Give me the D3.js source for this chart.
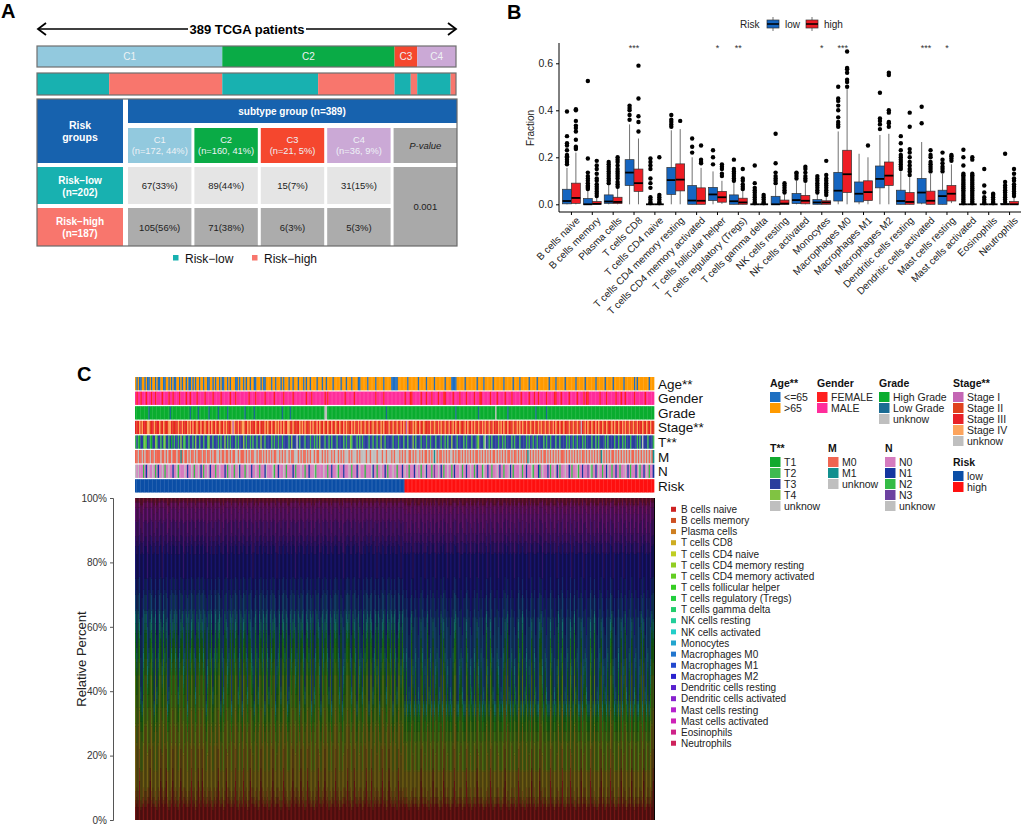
<!DOCTYPE html>
<html>
<head>
<meta charset="utf-8">
<title>Risk groups, immune cell fractions and clinical features</title>
<script src="https://cdn.jsdelivr.net/npm/d3@7"></script>
<style>
    body { margin: 0; background: #fff; }
    svg text { font-family: "Liberation Sans", Arial, sans-serif; }
</style>
</head>
<body>
<svg id="fig" width="1024" height="826"></svg>
<script>
// ================= data =================

// panel A: subtype x risk table
const totalPatients = 389;
const subtypes = ["C1", "C2", "C3", "C4"];
const subtypeN = [172, 160, 21, 36];
const subtypePct = [44, 41, 5, 9];
const riskNames = ["Risk\u2212low", "Risk\u2212high"];
const riskN = [202, 187];
const lowCounts = [67, 89, 15, 31];
const lowPct = [33, 44, 7, 15];
const highCounts = [105, 71, 6, 5];
const highPct = [56, 38, 3, 3];
const pValue = "0.001";

// panel B: CIBERSORT fractions, box stats [lowWhisker, q1, median, q3, highWhisker]
const cellTypes = ["B cells naive", "B cells memory", "Plasma cells", "T cells CD8", "T cells CD4 naive",
    "T cells CD4 memory resting", "T cells CD4 memory activated", "T cells follicular helper",
    "T cells regulatory (Tregs)", "T cells gamma delta", "NK cells resting", "NK cells activated",
    "Monocytes", "Macrophages M0", "Macrophages M1", "Macrophages M2", "Dendritic cells resting",
    "Dendritic cells activated", "Mast cells resting", "Mast cells activated", "Eosinophils", "Neutrophils"];
const boxLow = [
    [0, 0.002, 0.014, 0.064, 0.155], [0, 0, 0, 0.025, 0.06], [0, 0.004, 0.012, 0.04, 0.085],
    [0, 0.08, 0.135, 0.19, 0.34], [0, 0, 0, 0, 0], [0, 0.042, 0.103, 0.157, 0.315],
    [0, 0, 0.016, 0.08, 0.2], [0, 0.016, 0.042, 0.072, 0.14], [0, 0, 0.013, 0.04, 0.095],
    [0, 0, 0, 0, 0], [0, 0, 0, 0.034, 0.08], [0, 0.003, 0.018, 0.046, 0.1],
    [0, 0, 0.008, 0.02, 0.045], [0, 0.014, 0.058, 0.136, 0.31], [0, 0.01, 0.045, 0.095, 0.215],
    [0, 0.07, 0.108, 0.163, 0.295], [0, 0, 0.014, 0.06, 0.14], [0, 0.005, 0.05, 0.11, 0.265],
    [0, 0, 0.035, 0.06, 0.13], [0, 0, 0, 0, 0], [0, 0, 0, 0, 0], [0, 0, 0, 0.003, 0.008]];
const boxHigh = [
    [0, 0.004, 0.027, 0.09, 0.22], [0, 0, 0.002, 0.012, 0.03], [0, 0.003, 0.01, 0.03, 0.07],
    [0, 0.055, 0.09, 0.15, 0.28], [0, 0, 0, 0, 0], [0, 0.057, 0.105, 0.172, 0.32],
    [0, 0, 0.015, 0.07, 0.155], [0.002, 0.009, 0.03, 0.055, 0.1], [0, 0, 0.008, 0.026, 0.06],
    [0, 0, 0, 0, 0], [0, 0, 0.003, 0.018, 0.042], [0, 0.002, 0.015, 0.038, 0.09],
    [0, 0, 0.008, 0.015, 0.035], [0, 0.05, 0.128, 0.23, 0.49], [0, 0.016, 0.052, 0.1, 0.2],
    [0, 0.08, 0.122, 0.18, 0.3], [0, 0, 0.01, 0.05, 0.115], [0, 0, 0.015, 0.056, 0.13],
    [0.005, 0.014, 0.045, 0.08, 0.17], [0, 0, 0, 0, 0], [0, 0, 0, 0, 0], [0, 0, 0, 0.012, 0.03]];
const outLow = [
    [0.17, 0.18, 0.19, 0.2, 0.205, 0.21, 0.23, 0.25, 0.26, 0.29, 0.395],
    [0.065, 0.07, 0.075, 0.08, 0.09, 0.1, 0.11, 0.12, 0.135, 0.195, 0.525],
    [0.09, 0.1, 0.11, 0.12, 0.13, 0.14, 0.15, 0.16, 0.17, 0.18],
    [0.36, 0.38, 0.4, 0.41, 0.42],
    [0.005, 0.01, 0.02, 0.03, 0.07, 0.09, 0.11, 0.15, 0.165, 0.18, 0.195],
    [0.33, 0.34, 0.35, 0.36, 0.38],
    [0.22, 0.245, 0.28],
    [0.17, 0.2, 0.23],
    [0.1, 0.11, 0.12, 0.13, 0.14, 0.15, 0.19],
    [0.005, 0.01, 0.02, 0.03, 0.04, 0.05, 0.06, 0.07, 0.09, 0.165],
    [0.09, 0.1, 0.11, 0.12, 0.135, 0.175, 0.3],
    [0.11, 0.12, 0.13, 0.135],
    [0.05, 0.06, 0.07, 0.08, 0.09, 0.1, 0.11, 0.12],
    [0.33, 0.34, 0.35, 0.37, 0.4, 0.42, 0.44, 0.45, 0.5],
    [],
    [0.32, 0.34, 0.355, 0.365, 0.475],
    [0.15, 0.16, 0.17, 0.18, 0.19, 0.2, 0.21, 0.23, 0.26, 0.29],
    [0.345, 0.415],
    [0.14, 0.15, 0.16, 0.175, 0.19, 0.22],
    [0.005, 0.012, 0.02, 0.028, 0.036, 0.044, 0.052, 0.06, 0.068, 0.076, 0.084, 0.092, 0.1, 0.108, 0.116, 0.124, 0.13, 0.165, 0.2, 0.232],
    [0.005, 0.01, 0.02, 0.03, 0.05, 0.08, 0.15],
    [0.01, 0.02, 0.03, 0.04, 0.05, 0.06, 0.07, 0.08, 0.095, 0.215]];
const outHigh = [
    [0.235, 0.24, 0.245, 0.275, 0.31, 0.325, 0.335, 0.355, 0.4, 0.405],
    [0.035, 0.045, 0.055, 0.065, 0.075, 0.085, 0.1, 0.11, 0.13, 0.15, 0.165, 0.185],
    [0.075, 0.085, 0.095, 0.11, 0.12, 0.13, 0.14, 0.15, 0.165, 0.18, 0.19, 0.2],
    [0.31, 0.35, 0.375, 0.45, 0.59],
    [0.005, 0.01, 0.02, 0.03, 0.04, 0.2],
    [0.355],
    [0.175, 0.18, 0.19, 0.25],
    [0.12, 0.13, 0.15, 0.16, 0.17],
    [0.065, 0.075, 0.085, 0.1, 0.11, 0.15],
    [0.005, 0.01, 0.02, 0.03, 0.04],
    [0.05, 0.06, 0.07, 0.08, 0.09],
    [0.1, 0.11, 0.12, 0.135, 0.15, 0.16],
    [0.04, 0.05, 0.06, 0.07, 0.08, 0.09, 0.1, 0.11, 0.125, 0.185],
    [0.5, 0.52, 0.53, 0.56, 0.575, 0.58, 0.65],
    [0.25],
    [0.33, 0.345, 0.35, 0.39, 0.4, 0.55, 0.56],
    [0.125, 0.14, 0.15, 0.165, 0.18, 0.2, 0.22, 0.235, 0.33, 0.39],
    [0.14, 0.15, 0.16, 0.17, 0.18, 0.2, 0.21, 0.23],
    [0.185, 0.195, 0.205, 0.21],
    [0.005, 0.012, 0.02, 0.028, 0.036, 0.044, 0.052, 0.06, 0.068, 0.076, 0.084, 0.092, 0.1, 0.108, 0.116, 0.124, 0.13, 0.19, 0.2],
    [0.005, 0.01, 0.02, 0.03, 0.04, 0.045],
    [0.035, 0.045, 0.055, 0.065, 0.075, 0.085, 0.1, 0.11, 0.13, 0.15]];
const sigMarks = ["", "", "", "***", "", "", "", "*", "**", "", "", "", "*", "***", "", "", "", "***", "*", "", "", ""];

// panel C: per-patient annotation codes (202 risk-low patients first, then 187 risk-high)
const trackNames = ["Age**", "Gender", "Grade", "Stage**", "T**", "M", "N", "Risk"];
const ageCodes = `
babaabbaba ababbabaab baabbababa abbababbab aabababbab
babbaabbab abbabaabba babbbaabab bababbabba abbbabaabb
bbabbabbba babbbabbab bbabbbabab babbbbabbb abbabbbbab
bbbbabbbab bbabbbbaab bbbbabbbbb abbbbbabbb bbaaaaabbb
bbbbabbbbb bbabbbbbab bbbbabbbbb bbabbbbaaa abbbbbbabb
bbbbbbabbb babbbbbbab bbbbbbabbb bbbabbbbab bbbbbabbbb
babbbbbbbb abbbbabbbb bbabbbbbbb abbbbbbabb bbbbbabbbb
bbabbbbbab bbbbbbabbb bbbbababbb bbbbbabbb`;
const genderCodes = `
mfmmfmmmfm mmfmmfmmmm fmmmmfmmfm mmmfmmmmfm mfmmmmfmmm
mmfmmmmmfm mmmmfmmmmm mfmmmfmmmm mmmmmfmmmm fmmmmmmfmm
mmmmfmmmmm mfmmmmmmfm mmmmmmmmfm mmfmmmmmmm mmfmfmmmmm
mmmmmmmfmm mmmmfmmmmm mmmmmmmmmm fmmmmmfmmm mmmmmmmmmm
mmfmmmffmm mmmmfmmmfm mmfmmmmfmm mffmmmmmfm mmmfmmmmfm
mmmmfmmmff mmmmmmfmmm mfmmmmmfmm mmfmmmmmmf mmmmmfmmmf
mmfmmmmmfm mmmmffmmmf mmmmmfmmmm mfmmmmfmff mmmmmmmmfm
mmmfmmmmmm fmmmfmmfmm mmmmfmmmmm mmfmmmmmm`;
const gradeLowGrade = [10, 26, 41, 47, 55, 62, 69, 82, 89, 110, 116, 188, 240, 257, 279, 300, 308];
const gradeUnknown = [142, 143, 270];
const stageCodes = `
3234243324 4233423342 3423244323 2342343234 2434324234
3242343423 4324234342 3241423432 4423424323 4234323424
2343242434 3423442342 3234243423 2434234342 3423423432
4234234342 2343423434 2342343242 3423424323 4234234234
3421432342 4234324232 3432423434 2342343243 4234232434
2343423423 4342342343 2342434234 3234234243 4234324234
3243423423 4234342343 2432342342 3423u32434 2342343423
4234232434 2342343423 4234234323 423423432`;
const tCodes = `
2321332423 3213342332 3243323132 3323432233 2332343323
3233243323 3323233432 3233323233 3432332323 3233433233
3323233233 2333323433 3u32333233 3233232343 3323323233
3233332323 3423332323 2333323323 3233433233 3332333233
3233233343 2333233323 3233323332 3323233433 3233332323
3323332433 32u3323233 3323323233 3323233323 3332323323
3233332323 3233323323 3332323323 3233323233 3323323233
3323233332 3323323233 3233332323 u33323332`;
const mCodes = `
00u00u0u00 0u00u0000u 00u0u00u00 0u0010u00u 0u00u0u000
u00u00u0u0 0uu0u00u00 u0u00uu0u0 00u0u0u00u u0u00u0u0u
0u0u00uu0u 0u0uu0u00u uu0u0u00u0 u0uu0u00uu 0u0u0uu0u0
uu0u0u0uuu 0u0uuu0u0u uuu0uu0uuu u0uuu0uu0u uu0u0uuu0u
0u0uu00u0u 0uu0u0u00u 0u0u1u0u00 u0u0u0uu0u 0u00u0u0u0
u0u0u00u0u 0u0u0u0u00 u0u0u0u0u0 0u0u00u0u0 u0u01u0u0u
0u0u0u00u0 u0u0u0u0u0 00u0u0u0u0 u0u0u00u0u 0u0u0u0u01
u0u0u0u00u 0u0u0u0u0u 0u00u0u0u0 u0u0u0u01`;
const nCodes = `
u0u0002010 u00u020100 u0200u0010 0u20000u01 00u0200u01
0200u01000 200u000102 0u00200u10 0020u00100 u0020001u0
000u200100 0u02000010 2000u00200 1000u20000 0u00200100
0u20001000 u0200010u0 0020000u10 0200u00102 000u002000
10u0020001 0u00200u10 0020300u01 0200u00201 000u020010
0u00201000 2u00100200 0u01002000 u1020000u0 2001000u20
00120u0001 0200u01020 00u0010200 0u20010003 0u20010u00
2001u00200 1002000u01 0200010u20 010u02001`;

// panel C: estimated immune composition profiles (fractions of the 22 cell types)
const profiles = [
    [0.05, 0.02, 0.03, 0.13, 0.01, 0.11, 0.04, 0.045, 0.025, 0.01, 0.02, 0.03, 0.015, 0.12, 0.06, 0.11, 0.04, 0.06, 0.04, 0.02, 0.005, 0.01],
    [0.04, 0.02, 0.03, 0.2, 0.01, 0.15, 0.05, 0.05, 0.03, 0.01, 0.02, 0.03, 0.01, 0.05, 0.05, 0.1, 0.03, 0.05, 0.04, 0.015, 0.005, 0.01],
    [0.04, 0.01, 0.02, 0.08, 0.005, 0.09, 0.03, 0.03, 0.015, 0.005, 0.01, 0.025, 0.01, 0.26, 0.06, 0.14, 0.03, 0.03, 0.06, 0.025, 0.005, 0.02],
    [0.12, 0.04, 0.06, 0.12, 0.01, 0.1, 0.04, 0.05, 0.02, 0.005, 0.02, 0.03, 0.01, 0.08, 0.05, 0.1, 0.03, 0.05, 0.035, 0.015, 0.005, 0.01],
    [0.03, 0.01, 0.02, 0.09, 0.005, 0.12, 0.03, 0.03, 0.02, 0.005, 0.015, 0.025, 0.015, 0.09, 0.07, 0.25, 0.04, 0.04, 0.05, 0.02, 0.005, 0.02],
    [0.05, 0.02, 0.03, 0.1, 0.01, 0.1, 0.04, 0.04, 0.02, 0.01, 0.03, 0.03, 0.02, 0.1, 0.05, 0.1, 0.08, 0.09, 0.05, 0.02, 0.005, 0.005]];
const profileCodes = `
1013420115 0310214013 5103241031 0140315012 1031041301
3012510140 1031204135 0121031401 2310413052 1041301210
4103125014 1301241031 5012310413 0121401352 1031041201
3104125013 1041302150 4103121340 1512031041 3012104315
10
2024215202 4230252140 2325024123 0252420312 2504223025
4202352024 2152304220 5242032142 0254230212 4025232042
2315204223 0242512032 4202352140 2232504223 0212420325
4202315242 0232514202 3240225123 4202513`;

// ================= helpers =================
const clean = s => s.replace(/\s/g, "").split("");
const font = "Liberation Sans, Arial, sans-serif";
let svg = d3.select("#fig");

function panelLabel(t, x, y) {
    svg.append("text").attr("x", x).attr("y", y).text(t)
        .attr("font-size", 20).attr("font-weight", "bold");
}

// ================= panel A =================
panelLabel("A", 1, 18);
let gA = svg.append("g");
let xA = d3.scaleLinear().domain([0, totalPatients]).range([37, 456]);

// double arrow with title
gA.append("line").attr("x1", 38).attr("x2", 456).attr("y1", 29).attr("y2", 29)
    .attr("stroke", "#000").attr("stroke-width", 1.6);
gA.append("path").attr("d", "M46,23 L38,29 L46,35 M448,23 L456,29 L448,35")
    .attr("fill", "none").attr("stroke", "#000").attr("stroke-width", 1.8);
gA.append("rect").attr("x", 188).attr("y", 21).attr("width", 118).attr("height", 16).attr("fill", "#fff");
gA.append("text").attr("x", 247).attr("y", 33.5).attr("text-anchor", "middle")
    .attr("font-size", 13).attr("font-weight", "bold").text(totalPatients + " TCGA patients");

const subtypeColors = ["#92c9de", "#0aab46", "#f5472e", "#cba9d6"];
const riskColA = { low: "#18b1b0", high: "#f8766d" };

// subtype bar
let cumSub = [0, ...d3.cumsum(subtypeN)];
gA.selectAll(".sub").data(subtypes).join("rect")
    .attr("x", (d, i) => xA(cumSub[i])).attr("width", (d, i) => xA(cumSub[i + 1]) - xA(cumSub[i]))
    .attr("y", 46).attr("height", 21).attr("fill", (d, i) => subtypeColors[i]);
gA.selectAll(".subt").data(subtypes).join("text")
    .attr("x", (d, i) => (xA(cumSub[i]) + xA(cumSub[i + 1])) / 2).attr("y", 60)
    .attr("text-anchor", "middle").attr("font-size", 10).attr("fill", "#eef2f4").text(d => d);
gA.append("rect").attr("x", 37).attr("y", 46).attr("width", 419).attr("height", 21)
    .attr("fill", "none").attr("stroke", "#6f6f6f").attr("stroke-width", 1.2);

// risk bar within each subtype
let riskSegs = [];
let acc = 0;
subtypes.forEach((s, i) => {
    riskSegs.push({ start: acc, n: lowCounts[i], r: "low" });
    acc += lowCounts[i];
    riskSegs.push({ start: acc, n: highCounts[i], r: "high" });
    acc += highCounts[i];
});
gA.selectAll(".rs").data(riskSegs).join("rect")
    .attr("x", d => xA(d.start)).attr("width", d => xA(d.start + d.n) - xA(d.start))
    .attr("y", 73).attr("height", 22).attr("fill", d => riskColA[d.r]);
gA.append("rect").attr("x", 37).attr("y", 73).attr("width", 419).attr("height", 22)
    .attr("fill", "none").attr("stroke", "#6f6f6f").attr("stroke-width", 1.2);

// table
let colA = d3.scaleBand().domain([...subtypes, "P"]).range([128, 457]).paddingInner(0.045);
const headBlue = "#1762ae";
gA.append("rect").attr("x", 37).attr("y", 99).attr("width", 420).attr("height", 147).attr("fill", "#fff");
gA.append("rect").attr("x", 37).attr("y", 99).attr("width", 86).attr("height", 64).attr("fill", headBlue);
gA.append("rect").attr("x", 128).attr("y", 99).attr("width", 329).attr("height", 24).attr("fill", headBlue);
gA.append("text").attr("x", 292).attr("y", 115).attr("text-anchor", "middle").attr("fill", "#fff")
    .attr("font-size", 10).attr("font-weight", "bold").text(`subtype group (n=${totalPatients})`);
gA.append("text").attr("x", 80).attr("y", 129).attr("text-anchor", "middle").attr("fill", "#fff")
    .attr("font-size", 10.5).attr("font-weight", "bold")
    .selectAll("tspan").data(["Risk", "groups"]).join("tspan")
    .attr("x", 80).attr("dy", (d, i) => i ? 12 : 0).text(d => d);

// subtype header cells
gA.selectAll(".sh").data(subtypes).join("rect")
    .attr("x", d => colA(d)).attr("width", colA.bandwidth()).attr("y", 128).attr("height", 35)
    .attr("fill", (d, i) => subtypeColors[i]);
subtypes.forEach((s, i) => {
    gA.append("text").attr("text-anchor", "middle").attr("fill", "#eef2f6").attr("font-size", 9.3)
        .selectAll("tspan").data([s, `(n=${subtypeN[i]}, ${subtypePct[i]}%)`]).join("tspan")
        .attr("x", colA(s) + colA.bandwidth() / 2).attr("y", (d, j) => 143 + j * 11).text(d => d);
});
gA.append("rect").attr("x", colA("P")).attr("width", colA.bandwidth()).attr("y", 128).attr("height", 35).attr("fill", "#a9a9a9");
gA.append("text").attr("x", colA("P") + colA.bandwidth() / 2).attr("y", 149).attr("text-anchor", "middle")
    .attr("font-size", 9.5).attr("font-style", "italic").attr("fill", "#222").text("P-value");

// risk rows
let rowsA = [
    { name: riskNames[0], n: riskN[0], counts: lowCounts, pct: lowPct, y: 167, h: 37, col: riskColA.low, cell: "#e5e5e5" },
    { name: riskNames[1], n: riskN[1], counts: highCounts, pct: highPct, y: 208, h: 38, col: riskColA.high, cell: "#acacac" }];
rowsA.forEach(r => {
    gA.append("rect").attr("x", 37).attr("y", r.y).attr("width", 86).attr("height", r.h).attr("fill", r.col);
    gA.append("text").attr("text-anchor", "middle").attr("fill", "#fff").attr("font-size", 10).attr("font-weight", "bold")
        .selectAll("tspan").data([r.name, `(n=${r.n})`]).join("tspan")
        .attr("x", 80).attr("y", (d, j) => r.y + r.h / 2 - 2 + j * 12).text(d => d);
    gA.selectAll(null).data(subtypes).join("rect")
        .attr("x", d => colA(d)).attr("width", colA.bandwidth()).attr("y", r.y).attr("height", r.h).attr("fill", r.cell);
    gA.selectAll(null).data(subtypes).join("text")
        .attr("x", d => colA(d) + colA.bandwidth() / 2).attr("y", r.y + r.h / 2 + 3.5)
        .attr("text-anchor", "middle").attr("font-size", 9.5).attr("fill", "#222")
        .text((d, i) => `${r.counts[i]}(${r.pct[i]}%)`);
});
gA.append("rect").attr("x", colA("P")).attr("width", colA.bandwidth()).attr("y", 167).attr("height", 79).attr("fill", "#a9a9a9");
gA.append("text").attr("x", colA("P") + colA.bandwidth() / 2).attr("y", 210).attr("text-anchor", "middle")
    .attr("font-size", 9.5).attr("fill", "#222").text(pValue);
gA.append("rect").attr("x", 37).attr("y", 99).attr("width", 420).attr("height", 147)
    .attr("fill", "none").attr("stroke", "#6a6a6a").attr("stroke-width", 1.2);

// legend
[["low", riskNames[0], 173], ["high", riskNames[1], 252]].forEach(([k, t, x]) => {
    gA.append("rect").attr("x", x).attr("y", 255).attr("width", 5.5).attr("height", 5.5).attr("fill", riskColA[k]);
    gA.append("text").attr("x", x + 12).attr("y", 262.5).attr("font-size", 12).attr("fill", "#111").text(t);
});

// ================= panel B =================
panelLabel("B", 507, 19);
let gB = svg.append("g");
const lowBlue = "#1565c0", highRed = "#ee1c24";
let xB = d3.scaleBand().domain(cellTypes).range([561, 1020]);
let dodge = d3.scaleBand().domain(["low", "high"]).range([-8.9, 8.9]);
let yB = d3.scaleLinear().domain([0, 0.6]).range([204.3, 63.3]);

// axes
gB.append("g").attr("transform", "translate(559,0)")
    .call(d3.axisLeft(yB).tickValues([0, 0.2, 0.4, 0.6]).tickFormat(d3.format(".1f")).tickSize(3))
    .call(g => g.select(".domain").remove())
    .call(g => g.selectAll("text").attr("font-size", 10.5).attr("fill", "#222").attr("font-family", font));
gB.append("line").attr("x1", 559).attr("x2", 559).attr("y1", 43).attr("y2", 212).attr("stroke", "#000");
gB.append("g").attr("transform", "translate(0,212)")
    .call(d3.axisBottom(xB).tickSize(3).tickFormat(""))
    .call(g => g.select(".domain").remove());
gB.append("line").attr("x1", 559).attr("x2", 1021).attr("y1", 212).attr("y2", 212).attr("stroke", "#000");
gB.selectAll(".xl").data(cellTypes).join("text")
    .attr("transform", d => `translate(${xB(d) + xB.bandwidth() / 2 + 4},216) rotate(-45)`)
    .attr("text-anchor", "end").attr("dy", "0.72em").attr("font-size", 10).attr("fill", "#222").text(d => d);
gB.append("text").attr("transform", "translate(534,128) rotate(-90)").attr("text-anchor", "middle")
    .attr("font-size", 10).attr("fill", "#222").text("Fraction");

// boxes
function drawBoxes(stats, outs, key, col) {
    cellTypes.forEach((c, i) => {
        let cx = xB(c) + xB.bandwidth() / 2 + dodge(key) + dodge.bandwidth() / 2;
        let w = dodge.bandwidth();
        let s = stats[i];
        let g = gB.append("g");
        g.append("line").attr("x1", cx).attr("x2", cx).attr("y1", yB(s[0])).attr("y2", yB(s[4]))
            .attr("stroke", "#333").attr("stroke-width", 0.7);
        g.append("rect").attr("x", cx - w / 2).attr("width", w).attr("y", yB(s[3]))
            .attr("height", Math.max(0, yB(s[1]) - yB(s[3]))).attr("fill", col)
            .attr("stroke", "#333").attr("stroke-width", 0.7);
        g.append("line").attr("x1", cx - w / 2).attr("x2", cx + w / 2).attr("y1", yB(s[2])).attr("y2", yB(s[2]))
            .attr("stroke", "#000").attr("stroke-width", 1.8);
        g.selectAll("circle").data(outs[i]).join("circle")
            .attr("cx", cx).attr("cy", d => yB(d)).attr("r", 2.2).attr("fill", "#000");
    });
}
drawBoxes(boxLow, outLow, "low", lowBlue);
drawBoxes(boxHigh, outHigh, "high", highRed);

gB.selectAll(".sig").data(cellTypes).join("text")
    .attr("x", d => xB(d) + xB.bandwidth() / 2).attr("y", 51).attr("text-anchor", "middle")
    .attr("font-size", 9).attr("fill", "#333").text((d, i) => sigMarks[i]);

// legend
gB.append("text").attr("x", 740).attr("y", 28).attr("font-size", 10).attr("fill", "#222").text("Risk");
[["low", lowBlue, 767], ["high", highRed, 806]].forEach(([k, c, x]) => {
    gB.append("line").attr("x1", x + 6).attr("x2", x + 6).attr("y1", 17).attr("y2", 31).attr("stroke", "#333").attr("stroke-width", 0.7);
    gB.append("rect").attr("x", x).attr("y", 20).attr("width", 12).attr("height", 8).attr("fill", c)
        .attr("stroke", "#333").attr("stroke-width", 0.7);
    gB.append("line").attr("x1", x).attr("x2", x + 12).attr("y1", 24).attr("y2", 24).attr("stroke", "#000").attr("stroke-width", 1.5);
    gB.append("text").attr("x", x + 18).attr("y", 28).attr("font-size", 10).attr("fill", "#222").text(k);
});

// ================= panel C =================
panelLabel("C", 77, 381);
let gC = svg.append("g");

const ageCol = { a: "#1e6fc1", b: "#ff9a00" };
const genderCol = { f: "#ff1f1f", m: "#ff2d9b" };
const gradeCol = { h: "#0aad2f", l: "#1a6b93", u: "#bfbfbf" };
const stageCol = { "1": "#c466b4", "2": "#e0421d", "3": "#e82127", "4": "#fca45d", u: "#bfbfbf" };
const tCol = { "1": "#11a92e", "2": "#3dba4f", "3": "#2b3e9d", "4": "#80c342", u: "#bfbfbf" };
const mCol = { "0": "#ef6551", "1": "#12908f", u: "#bfbfbf" };
const nCol = { "0": "#d57bbf", "1": "#1436a0", "2": "#35bb46", "3": "#6d42a1", u: "#bfbfbf" };
const riskCol = { low: "#0b4ea6", high: "#ff1010" };

let gradeCodes = d3.range(totalPatients).map(i => gradeUnknown.includes(i) ? "u" : (gradeLowGrade.includes(i) ? "l" : "h"));
let riskCodes = d3.range(totalPatients).map(i => i < riskN[0] ? "low" : "high");
let tracks = [
    [clean(ageCodes), ageCol], [clean(genderCodes), genderCol], [gradeCodes, gradeCol],
    [clean(stageCodes), stageCol], [clean(tCodes), tCol], [clean(mCodes), mCol],
    [clean(nCodes), nCol], [riskCodes, riskCol]];
tracks.forEach((t, k) => { if (t[0].length !== totalPatients) console.warn(trackNames[k], t[0].length); });

let xC = d3.scaleBand().domain(d3.range(totalPatients)).range([135, 654]);
let yTrack = d3.scaleBand().domain(trackNames).range([377, 492.5]).paddingInner(0.09);

tracks.forEach((t, k) => {
    let name = trackNames[k];
    gC.append("g").selectAll("rect").data(t[0]).join("rect")
        .attr("x", (d, i) => xC(i)).attr("width", xC.bandwidth() + 0.35)
        .attr("y", yTrack(name)).attr("height", yTrack.bandwidth())
        .attr("fill", d => t[1][d]);
    gC.append("text").attr("x", 658).attr("y", yTrack(name) + yTrack.bandwidth() / 2 + 5)
        .attr("font-size", 13.5).attr("fill", "#111").text(name);
});

// stacked relative-percent bars
let pCodes = clean(profileCodes).map(Number);
let barRows = pCodes.map((p, i) => {
    let row = { id: i };
    cellTypes.forEach((c, j) => row[c] = profiles[p][j]);
    return row;
});
let stackC = d3.stack().keys(cellTypes)(barRows);
let yC = d3.scaleLinear().domain([0, 1]).range([820, 498]);
let cellColor = d3.scaleOrdinal().domain(cellTypes)
    .range(cellTypes.map((c, i) => d3.hsl(i * 16.2, 0.72, 0.47).formatHex()));

gC.append("rect").attr("x", 135).attr("y", 498).attr("width", 520).attr("height", 322).attr("fill", "#050505");
gC.append("g").selectAll("g").data(stackC).join("g")
    .attr("fill", d => cellColor(d.key))
    .selectAll("rect").data(d => d).join("rect")
    .attr("x", d => xC(d.data.id)).attr("width", xC.bandwidth() * 0.78)
    .attr("y", d => yC(d[1])).attr("height", d => yC(d[0]) - yC(d[1]))
    .attr("fill-opacity", 0.55);

gC.append("g").attr("transform", "translate(113,0)")
    .call(d3.axisLeft(yC).tickValues([0, 0.2, 0.4, 0.6, 0.8, 1]).tickFormat(d3.format(".0%")).tickSize(3))
    .call(g => g.select(".domain").attr("stroke", "#555"))
    .call(g => g.selectAll(".tick line").attr("stroke", "#555"))
    .call(g => g.selectAll("text").attr("font-size", 10).attr("fill", "#333").attr("font-family", font));
gC.append("text").attr("transform", "translate(86,659) rotate(-90)").attr("text-anchor", "middle")
    .attr("font-size", 13).attr("fill", "#222").text("Relative Percent");

// cell-type legend
gC.selectAll(".cl").data(cellTypes).join("rect")
    .attr("x", 671).attr("y", (d, i) => 506.8 + i * 11.14).attr("width", 5).attr("height", 5).attr("fill", d => cellColor(d));
gC.selectAll(".ct").data(cellTypes).join("text")
    .attr("x", 681).attr("y", (d, i) => 513 + i * 11.14).attr("font-size", 10).attr("fill", "#222").text(d => d);

// clinical legends
const clinLegends = [
    { title: "Age**", x: 770, y: 383, labels: ["<=65", ">65"], colors: ageCol, keys: ["a", "b"] },
    { title: "Gender", x: 817, y: 383, labels: ["FEMALE", "MALE"], colors: genderCol, keys: ["f", "m"] },
    { title: "Grade", x: 879, y: 383, labels: ["High Grade", "Low Grade", "unknow"], colors: gradeCol, keys: ["h", "l", "u"] },
    { title: "Stage**", x: 953, y: 383, labels: ["Stage I", "Stage II", "Stage III", "Stage IV", "unknow"], colors: stageCol, keys: ["1", "2", "3", "4", "u"] },
    { title: "T**", x: 770, y: 448, labels: ["T1", "T2", "T3", "T4", "unknow"], colors: tCol, keys: ["1", "2", "3", "4", "u"] },
    { title: "M", x: 828, y: 448, labels: ["M0", "M1", "unknow"], colors: mCol, keys: ["0", "1", "u"] },
    { title: "N", x: 885, y: 448, labels: ["N0", "N1", "N2", "N3", "unknow"], colors: nCol, keys: ["0", "1", "2", "3", "u"] },
    { title: "Risk", x: 953, y: 462, labels: ["low", "high"], colors: riskCol, keys: ["low", "high"] }];
clinLegends.forEach(L => {
    let g = gC.append("g");
    g.append("text").attr("x", L.x).attr("y", L.y + 4).attr("font-size", 10.5).attr("font-weight", "bold")
        .attr("fill", "#111").text(L.title);
    g.selectAll("rect").data(L.keys).join("rect")
        .attr("x", L.x).attr("y", (d, i) => L.y + 9 + i * 11).attr("width", 10.5).attr("height", 10)
        .attr("fill", d => L.colors[d]);
    g.selectAll(".lt").data(L.labels).join("text")
        .attr("x", L.x + 14).attr("y", (d, i) => L.y + 18 + i * 11)
        .attr("font-size", 10.5).attr("fill", "#222").text(d => d);
});
</script>
</body>
</html>
